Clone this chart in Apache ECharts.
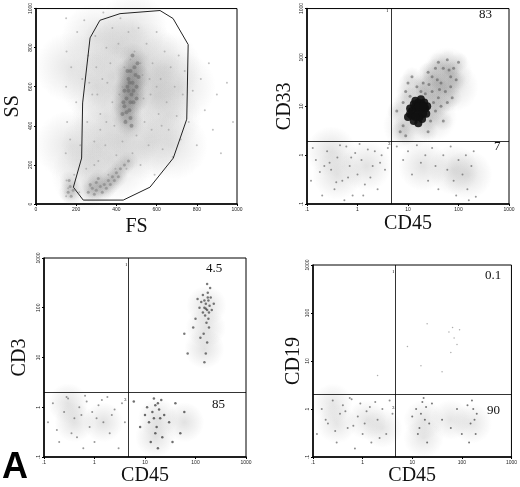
<!DOCTYPE html>
<html>
<head>
<meta charset="utf-8">
<script src="https://cdn.jsdelivr.net/npm/echarts@6/dist/echarts.min.js"></script>
<style>html,body{margin:0;padding:0;background:#fff}#chart{width:520px;height:487px}</style>
</head>
<body>
<div id="chart"></div>
<script>
// ---- panel 1: FS / SS ----
const linTicks = ['0', '200', '400', '600', '800', '1000']
const gate = [[318,940],[418,974],[617,990],[682,949],[757,816],[750,434],[683,235],[567,86],[434,20],[235,20],[186,86],[227,235],[232,517],[269,850],[318,940]]
const fsHaze = [
  [150,40],[152,120],[148,260],[155,420],[150,600],[152,780],[150,950],[160,80],[170,330],[175,700],
  [190,150],[200,520],[205,880],[215,60],[220,300],[230,640],[240,940],[250,180],[255,420],[260,760],
  [270,90],[280,560],[290,320],[295,860],[300,700],[310,220],[320,460],[330,640],[335,980],[345,300],
  [350,800],[360,150],[370,720],[380,900],[390,400],[400,250],[410,820],[420,950],[430,320],[440,700],
  [450,180],[460,880],[480,260],[490,780],[500,350],[510,900],[520,200],[530,660],[540,420],[550,820],
  [560,300],[570,560],[580,720],[590,150],[600,880],[610,460],[620,640],[630,280],[640,780],[650,520],
  [660,380],[670,700],[680,240],[690,600],[700,450],[710,760],[720,330],[730,560],[740,680],[760,420],
  [780,580],[800,300],[820,640],[840,480],[860,720],[880,380],[900,560],[920,260],[950,620],[980,420],
  [265,620],[305,560],[355,620],[395,180],[415,560],[445,430],[475,620],[505,560],[535,540],[565,640],
  [600,600],[625,400],[575,380],[520,720],[470,740],[430,600],[380,520],[350,420],[320,380],[290,200]
]
const fsBlobs = [
  [300,300],[300,600],[300,850],[400,200],[400,800],[550,300],[550,750],[650,450],[650,700],[350,450],
  [450,350],[520,600],[600,550],[250,150],[170,300],[170,700],[480,900],[680,300],[720,600],[380,650]
]
const fsCore = [
  [430,460],[440,500],[450,540],[455,600],[460,640],[470,680],[475,560],[480,620],[485,520],[490,700],
  [445,420],[465,480],[470,440],[500,600],[495,660],[505,720],[460,580],[450,470],[480,760],[435,520],
  [470,520],[485,580],[455,680],[500,540],[475,400],[440,580],[510,650],[465,620]
]
const fsLow = [
  [260,60],[280,80],[300,70],[320,90],[340,100],[360,120],[380,140],[400,160],[420,180],[300,110],
  [330,60],[350,80],[370,100],[390,120],[410,140],[440,200],[460,220],[290,50],[310,130],[270,100],
  [160,60],[170,90],[175,40],[165,120],[185,70]
]
// ---- panel 2: CD45 / CD33 ----
const logTicks = ['.1', '1', '10', '100', '1000']
const cd33Core = [
  [10,6],[12,8],[14,10],[16,12],[18,9],[20,7],[13,5],[15,7],[17,6],[11,9],[19,11],[22,9],[14,13],[16,4.5],
  [12,6.5],[18,14],[21,12],[24,10],[13,11],[15,9],[17,8],[19,5.5],[11,7],[23,7],[16,10],[14,6],[20,10]
]
const cd33Blobs = [[15,8],[25,15],[40,30],[60,50],[10,4],[30,6],[80,25],[0.4,0.4],[1.5,0.6],[0.3,1.2],[20,0.6],[80,0.5],[150,0.4]]
const cd33Halo = [
  [7,3],[8,12],[9,20],[10,30],[12,40],[15,25],[20,30],[25,50],[30,40],[35,60],[40,80],[50,60],[60,90],[45,30],
  [30,20],[40,15],[55,20],[70,40],[80,60],[35,8],[45,10],[60,12],[28,5],[50,5],[25,3],[8,4],[6,8],[9,2.5],
  [70,25],[90,35],[100,80],[65,55],[38,35],[22,18],[32,12],[42,22],[26,28],[18,20],[11,16],[75,15]
]
const cd33LowLeft = [
  [0.12,0.3],[0.15,0.8],[0.2,0.15],[0.25,1.2],[0.3,0.5],[0.35,0.2],[0.4,0.9],[0.5,0.3],[0.6,1.5],[0.7,0.6],
  [0.8,0.15],[0.9,1.1],[1,0.4],[1.2,0.8],[1.4,0.25],[1.6,1.3],[2,0.6],[2.5,0.2],[3,1],[3.5,0.5],
  [0.18,0.45],[0.28,0.7],[0.45,1.6],[0.55,0.12],[0.65,0.35],[1.1,1.7],[1.8,0.35],[2.2,1.2],[0.13,1.4],[0.38,0.28],
  [4,1.4],[0.75,0.9],[1.3,0.15],[2.8,0.7],[0.22,0.6]
]
const cd33LowRight = [
  [6,1.5],[8,0.8],[10,1.2],[12,0.4],[15,1.6],[18,0.7],[22,1],[25,0.3],[30,1.4],[35,0.6],[40,0.2],[50,1],
  [60,0.5],[70,1.5],[80,0.3],[100,0.8],[120,0.4],[150,0.2],[180,0.6],[200,1.2],[140,1],[90,0.15],[160,0.12],[220,0.14]
]
// ---- panel 3: CD45 / CD3 ----
const cd3High = [
  [150,100],[160,120],[170,90],[180,140],[140,80],[190,110],[200,160],[130,130],[175,200],[155,70],
  [165,50],[185,40],[145,30],[170,20],[160,12],[150,8],[180,60],[120,100],[210,90],[195,250],[140,180],
  [100,60],[90,40],[110,150],[230,120],[170,300],[125,25],[175,160],[160,95],[150,140],[185,80],[60,30],[70,12]
]
const cd3Blobs = [[165,110],[160,40],[150,15],[0.4,0.5],[1.5,0.5],[0.3,1.2],[18,0.6],[16,0.25],[60,0.5]]
const cd3LowLeft = [
  [0.12,0.5],[0.15,1.2],[0.2,0.2],[0.25,0.8],[0.3,1.5],[0.35,0.3],[0.4,0.6],[0.5,1],[0.6,0.15],[0.7,1.3],
  [0.8,0.4],[0.9,0.8],[1,0.2],[1.2,1.1],[1.5,0.5],[1.8,1.6],[2,0.3],[2.5,0.9],[3,0.15],[3.5,1.2],
  [0.18,0.35],[0.28,1.6],[0.45,0.25],[0.55,0.7],[1.1,0.6],[1.4,1.4],[2.2,0.7],[0.65,1.7],[4,0.5]
]
const cd3LowMid = [
  [12,0.5],[14,0.8],[16,0.3],[18,1.2],[20,0.6],[15,1.5],[13,0.2],[17,0.4],[19,0.9],[22,0.25],[11,1],[24,0.7],
  [15,0.6],[18,0.15],[21,1.4],[16,1.1],[30,0.5],[40,1.2],[8,0.4],[6,1.3],[50,0.3],[60,0.8],[35,0.2],[10,0.7]
]
// ---- panel 4: CD45 / CD19 ----
const cd19High = [[20,60],[55,40],[70,30],[60,15],[40,6],[15,8],[2,5],[8,20],[90,45],[65,50],[80,22]]
const cd19Blobs = [[0.3,0.5],[1.2,0.6],[0.25,1.3],[2.5,0.4],[17,0.6],[17,0.25],[160,0.5],[60,0.6]]
const cd19LowLeft = [
  [0.12,0.3],[0.15,1],[0.2,0.5],[0.25,1.5],[0.3,0.2],[0.35,0.8],[0.4,1.2],[0.5,0.4],[0.6,1.6],[0.7,0.15],
  [0.8,0.7],[0.9,1.3],[1,0.3],[1.2,0.9],[1.5,0.2],[1.8,1.4],[2,0.6],[2.5,1],[3,0.3],[3.5,1.5],
  [0.18,0.6],[0.28,0.35],[0.45,0.9],[0.55,1.7],[1.1,0.5],[1.4,1.1],[2.2,0.25],[0.65,0.45],[4,0.8]
]
const cd19LowMid = [
  [12,1],[14,0.4],[16,1.4],[18,0.6],[20,0.2],[15,0.8],[17,1.7],[13,0.3],[19,1.1],[22,0.5],[10,0.7],[25,1.3],
  [150,0.5],[170,1],[190,0.3],[160,1.5],[200,0.8],[140,0.2],[180,0.6],[130,1.2],[60,0.4],[80,1],[40,0.6],[100,0.3]
]

const serif = 'Liberation Serif'
const dot = '#333'
function linAxis(g, name, gap, rot) {
  return {
    gridIndex: g, type: 'value', min: 0, max: 1000, interval: 200,
    name, nameLocation: 'middle', nameGap: gap, nameRotate: rot,
    nameTextStyle: { fontFamily: serif, fontSize: 20, color: '#111' },
    axisLine: { lineStyle: { color: '#000', width: 1.5 } },
    axisTick: { length: 2, lineStyle: { color: '#000' } },
    axisLabel: { fontSize: 5, color: '#222', margin: 3, rotate: rot ? 90 : 0, formatter: v => linTicks[v / 200] },
    splitLine: { show: false }
  }
}
function logAxis(g, name, gap, rot) {
  return {
    gridIndex: g, type: 'log', logBase: 10, min: 0.1, max: 1000,
    name, nameLocation: 'middle', nameGap: gap, nameRotate: rot,
    nameTextStyle: { fontFamily: serif, fontSize: 20, color: '#111' },
    axisLine: { lineStyle: { color: '#000', width: 1.5 } },
    axisTick: { length: 2, lineStyle: { color: '#000' } },
    axisLabel: { fontSize: 5, color: '#222', margin: 3, rotate: rot ? 90 : 0, formatter: v => logTicks[Math.round(Math.log10(v)) + 1] },
    splitLine: { show: false }
  }
}
const boxes = [
  { left: 36, top: 3, width: 201, height: 201 },
  { left: 307, top: 5, width: 202, height: 199 },
  { left: 44, top: 258, width: 202, height: 200 },
  { left: 313, top: 265, width: 200, height: 200 }
]
const grids = boxes.map(b => Object.assign({ show: true, borderColor: '#000', borderWidth: 1 }, b))
function pts(i, data, size, color, op) {
  return { type: 'scatter', xAxisIndex: i, yAxisIndex: i, data, symbolSize: size, silent: true,
    itemStyle: { color, opacity: op } }
}
// soft haze: radial fade so blob edges don't show
function haze(i, data, size, alpha) {
  return { type: 'scatter', xAxisIndex: i, yAxisIndex: i, data, symbolSize: size, silent: true,
    itemStyle: { color: { type: 'radial', x: 0.5, y: 0.5, r: 0.5, colorStops: [
      { offset: 0, color: 'rgba(110,110,110,' + alpha + ')' },
      { offset: 1, color: 'rgba(110,110,110,0)' }] } } }
}
function quad(i, xv, yv) {
  return { type: 'scatter', xAxisIndex: i, yAxisIndex: i, data: [], silent: true,
    markLine: { symbol: 'none', silent: true, label: { show: false },
      lineStyle: { color: '#000', width: 0.8, type: 'solid' },
      data: [{ xAxis: xv }, { yAxis: yv }] } }
}
const series = [
  haze(0, fsBlobs, 70, 0.22),
  haze(0, fsCore, 26, 0.25),
  haze(0, fsLow, 20, 0.2),
  pts(0, fsHaze, 2, '#999', 0.6),
  pts(0, fsLow, 3, '#777', 0.5),
  pts(0, fsCore, 4, '#666', 0.5),
  { type: 'line', xAxisIndex: 0, yAxisIndex: 0, data: gate, symbol: 'none', silent: true,
    lineStyle: { color: '#222', width: 1 } },
  haze(1, cd33Blobs, 50, 0.25),
  haze(1, cd33Halo, 20, 0.2),
  pts(1, cd33LowLeft, 2, dot, 0.5),
  pts(1, cd33LowRight, 2, dot, 0.5),
  pts(1, cd33Halo, 3, '#555', 0.55),
  pts(1, cd33Core, 8, '#111', 0.9),
  quad(1, 4.6, 1.95),
  haze(2, cd3Blobs, 40, 0.25),
  pts(2, cd3LowLeft, 2, dot, 0.5),
  pts(2, cd3LowMid, 2.5, '#222', 0.65),
  pts(2, cd3High, 2.5, '#333', 0.65),
  quad(2, 4.6, 2),
  haze(3, cd19Blobs, 40, 0.22),
  pts(3, cd19LowLeft, 2, dot, 0.55),
  pts(3, cd19LowMid, 2, '#222', 0.6),
  pts(3, cd19High, 1.5, '#777', 0.6),
  quad(3, 4.6, 2)
]
function txt(x, y, s, size, extra) {
  return { type: 'text', left: x, top: y, style: Object.assign({ text: s, fontFamily: serif, fontSize: size, fill: '#111' }, extra || {}) }
}
const chart = echarts.init(document.getElementById('chart'), null, { renderer: 'canvas' })
chart.setOption({
  animation: false,
  grid: grids,
  xAxis: [linAxis(0, 'FS', 13, 0), logAxis(1, 'CD45', 10, 0), logAxis(2, 'CD45', 9, 0), logAxis(3, 'CD45', 9, 0)],
  yAxis: [linAxis(0, 'SS', 13, 90), logAxis(1, 'CD33', 12, 90), logAxis(2, 'CD3', 14, 90), logAxis(3, 'CD19', 5, 90)],
  series,
  graphic: [
    txt(479, 8, '83', 13), txt(494, 140, '7', 13),
    txt(206, 262, '4.5', 13), txt(212, 398, '85', 13),
    txt(485, 269, '0.1', 13), txt(487, 404, '90', 13),
    txt(386, 8, '1', 5), txt(388, 141, '3', 5), txt(125, 262, '1', 5), txt(124, 397, '3', 5),
    txt(392, 269, '1', 5), txt(392, 405, '3', 5),
    txt(2, 450, 'A', 36, { fontFamily: 'Liberation Sans', fontWeight: 'bold', fill: '#000' })
  ]
})
</script>
</body>
</html>
